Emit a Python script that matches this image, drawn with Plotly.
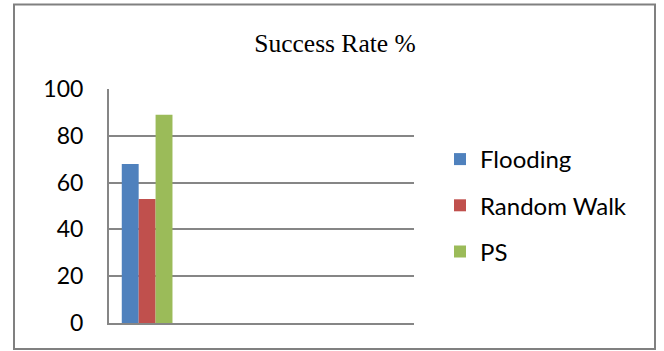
import plotly.graph_objects as go

categories = ["Success Rate %"]
series_names = ["Flooding", "Random Walk", "PS"]
flooding = [68]
random_walk = [53]
ps = [89]
colors = ["#4F81BD", "#C0504D", "#9BBB59"]
y_ticks = [0, 20, 40, 60, 80, 100]

W, H = 664, 351
ml, mr, mt, mb = 109, 250, 89, 28
pw, ph = W - ml - mr, H - mt - mb

fig = go.Figure()
for i, (name, vals) in enumerate(zip(series_names, [flooding, random_walk, ps])):
    fig.add_trace(go.Bar(x=categories, y=vals, name=name, marker_color=colors[i],
                         marker_line_width=0, legendgroup=name))

def px_x(p):
    return (p - ml) / pw

def px_y(p):
    return (H - mb - p) / ph

fig.add_shape(type="rect", xref="paper", yref="paper",
              x0=px_x(14), x1=px_x(655), y0=px_y(349), y1=px_y(4.5),
              line=dict(color="#808080", width=2), layer="below")

fig.update_layout(
    width=W, height=H,
    margin=dict(l=ml, r=mr, t=mt, b=mb),
    paper_bgcolor="white", plot_bgcolor="white",
    barmode="group", bargap=0.335, bargroupgap=0,
    title=dict(text="Success Rate %", xref="container", x=335 / W, xanchor="center",
               yref="container", y=1 - 43 / H, yanchor="middle",
               font=dict(family="Liberation Serif", size=25.5, color="black")),
    font=dict(family="Lato", size=23, color="black"),
    legend=dict(x=px_x(440), xanchor="left", y=px_y(205.5), yanchor="middle",
                tracegroupgap=12, font=dict(family="Lato", size=24, color="black"),
                bgcolor="rgba(0,0,0,0)"),
    xaxis=dict(type="category", range=[-0.5, 3.5], showticklabels=False, showgrid=False,
               showline=True, linecolor="#868686", linewidth=2, ticks="", zeroline=False),
    yaxis=dict(range=[0, 100], tickvals=y_ticks, showgrid=True, gridcolor="#868686",
               gridwidth=1.5, showline=True, linecolor="#868686", linewidth=2,
               zeroline=False, ticks="", ticklabelstandoff=19,
               tickfont=dict(family="Lato", size=23, color="black")),
)

fig.write_html("out.html")
